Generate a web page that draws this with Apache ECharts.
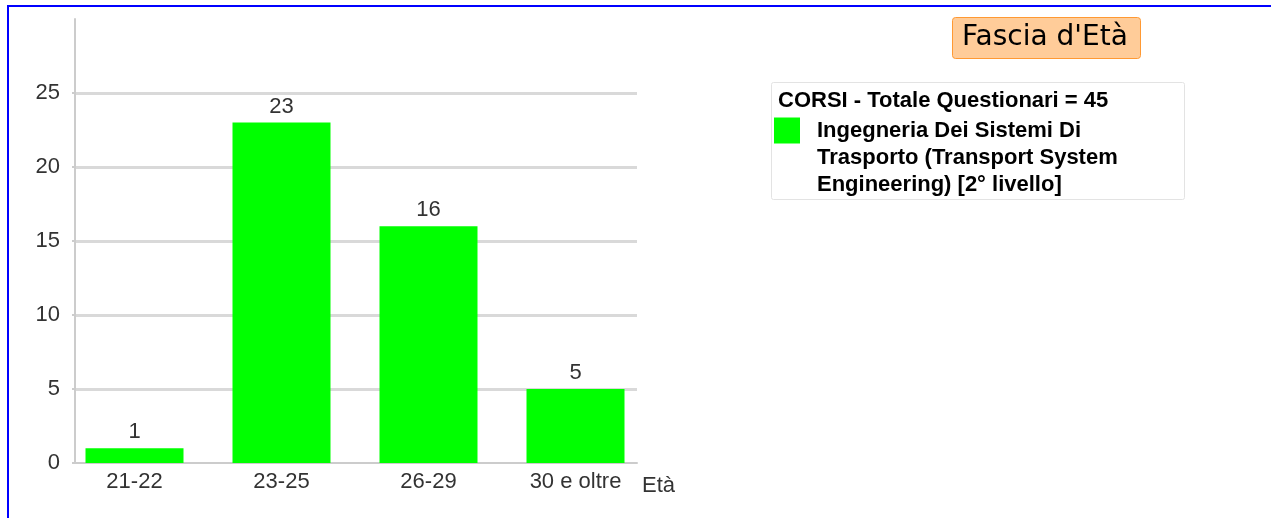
<!DOCTYPE html>
<html>
<head>
<meta charset="utf-8">
<title>Fascia d'Età</title>
<script src="https://cdn.jsdelivr.net/npm/echarts@6/dist/echarts.min.js"></script>
<style>
  html, body { margin: 0; padding: 0; overflow: hidden; background: #fff; }
  #frame { position: absolute; left: 7px; top: 5px; width: 1300px; height: 600px; border: 2px solid #0000ff; }
  #chart { position: absolute; left: 0; top: 0; width: 1271px; height: 518px; }
</style>
</head>
<body>
<div id="frame"></div>
<div id="chart"></div>
<script>
  // dati del grafico
  var fasce = ['21-22', '23-25', '26-29', '30 e oltre'];
  var valori = [1, 23, 16, 5];
  var nomeSerie = 'Ingegneria Dei Sistemi Di\nTrasporto (Transport System\nEngineering) [2° livello]';
  var titolo = "Fascia d'Età";
  var intestazione = 'CORSI - Totale Questionari = 45';

  var chart = echarts.init(document.getElementById('chart'));
  var font = 'Liberation Sans, Arial, sans-serif';

  chart.setOption({
    animation: false,
    title: [{
      text: titolo,
      left: 952,
      top: 17,
      padding: [5, 13, 6, 10],
      backgroundColor: '#ffcc99',
      borderColor: '#ff9933',
      borderWidth: 1,
      borderRadius: 3,
      textStyle: { fontFamily: 'DejaVu Sans', fontSize: 28, fontWeight: 'normal', color: '#000', lineHeight: 31 }
    }, {
      text: intestazione,
      left: 778,
      top: 90,
      padding: 0,
      textStyle: { fontFamily: font, fontSize: 22, fontWeight: 'bold', color: '#000' }
    }],
    graphic: [{
      type: 'rect',
      shape: { x: 771.5, y: 82.5, width: 413, height: 117, r: 2 },
      style: { fill: 'none', stroke: '#e3e3e3', lineWidth: 1 },
      z: -1
    }],
    legend: {
      left: 774,
      top: 63,
      padding: 0,
      itemWidth: 26,
      itemHeight: 26,
      selectedMode: false,
      formatter: function (name) {
        // righe vuote in testa: la prima riga resta allineata al quadratino
        return '\n\n' + name.split('\n').map(function (r) { return '{t|' + r + '}'; }).join('\n');
      },
      textStyle: {
        fontFamily: font, fontSize: 22, fontWeight: 'bold', color: '#000', lineHeight: 27,
        rich: {
          t: { fontFamily: font, fontSize: 22, fontWeight: 'bold', color: '#000', lineHeight: 27, padding: [0, 0, 0, 12] }
        }
      },
      data: [{ name: nomeSerie, icon: 'rect' }]
    },
    grid: [
      { left: 75, width: 562, top: 19, bottom: 55 },
      { left: 61, width: 588, top: 19, bottom: 55 }
    ],
    xAxis: [{
      gridIndex: 0,
      type: 'category',
      data: [],
      name: 'Età',
      nameLocation: 'end',
      nameGap: 5,
      nameTextStyle: { fontFamily: font, fontSize: 22, color: '#333', verticalAlign: 'top', padding: [12, 0, 0, 0] },
      axisLine: { lineStyle: { color: '#cccccc', width: 2 } },
      axisTick: { show: false },
      axisLabel: { show: false }
    }, {
      gridIndex: 1,
      type: 'category',
      data: fasce,
      axisLine: { show: false },
      axisTick: { show: false },
      axisLabel: { fontFamily: font, fontSize: 22, color: '#333', margin: 8 }
    }],
    yAxis: [{
      gridIndex: 0,
      type: 'value',
      min: 0,
      max: 30,
      interval: 5,
      axisLine: { show: true, lineStyle: { color: '#cccccc', width: 2 } },
      axisTick: { show: true, length: 3, lineStyle: { color: '#cccccc', width: 2 } },
      axisLabel: { fontFamily: font, fontSize: 22, color: '#333', margin: 15, showMaxLabel: false },
      splitLine: { show: true, showMinLine: false, showMaxLine: false, lineStyle: { color: '#d9d9d9', width: 3 } }
    }, {
      gridIndex: 1,
      type: 'value',
      min: 0,
      max: 30,
      interval: 5,
      show: false
    }],
    series: [{
      name: nomeSerie,
      type: 'bar',
      xAxisIndex: 1,
      yAxisIndex: 1,
      data: valori,
      barWidth: 98,
      itemStyle: { color: '#00ff00' },
      label: {
        show: true,
        position: 'top',
        distance: 5,
        fontFamily: font,
        fontSize: 22,
        color: '#333'
      },
      z: 3
    }]
  });
</script>
</body>
</html>
